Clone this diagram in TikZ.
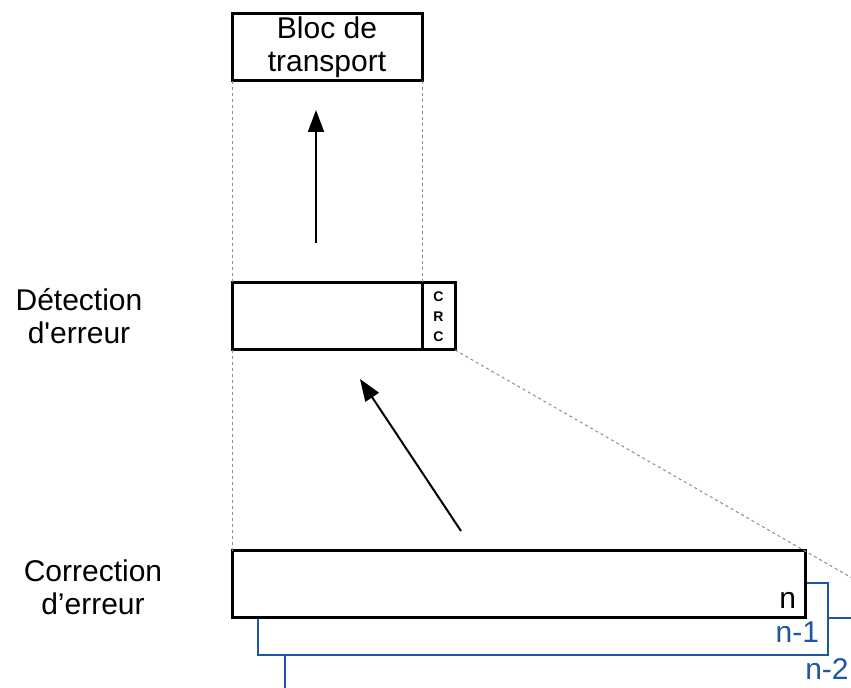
\documentclass[tikz,border=0pt]{standalone}
\usepackage{fontspec}
\setmainfont{Liberation Sans}[Ligatures=TeXOff]
\usetikzlibrary{positioning,calc,arrows.meta}
\definecolor{couche}{RGB}{30,85,165}
\tikzset{
  bloc/.style={draw, line width=1.5pt, fill=white, inner sep=0pt, outer sep=0pt,
    anchor=north west, minimum height=33.5pt},
  bloccouche/.style={bloc, draw=couche, line width=1.1pt, minimum width=285pt, minimum height=36pt},
  guide/.style={draw=gray!90, line width=0.5pt, dash pattern=on 1.5pt off 1.5pt},
  fleche/.style={line width=1pt, -{Triangle[length=11pt,width=8pt]}},
  titre/.style={align=center, font=\fontsize{15}{16.5}\selectfont},
}

\begin{document}
\begin{tikzpicture}[x=0.5pt,y=-0.5pt]
\useasboundingbox (0,0) rectangle (851,688);
\clip (0,0) rectangle (851,688);

% couches n-2, n-1, n
\node[bloccouche, minimum height=40pt] (bloc2) at (285,618) {};
\node[bloccouche] (bloc1) at (258,583) {};
\node[bloc, minimum width=286.5pt] (correct) at (232,551) {};
\node[titre, anchor=base east] (lbln) at (803,609) {n};
\node[titre, anchor=base east, text=couche] (lbln1) at (826,643) {n-1};
\node[titre, anchor=base east, text=couche, inner xsep=0pt] (lbln2) at (849,680) {n-2};

% blocs du haut
\node[bloc, minimum width=95pt, titre] (transport) at (232,14) {Bloc de\\transport};
\node[bloc, minimum width=95pt] (detect) at (232,283) {};
\node[bloc, minimum width=16.5pt, right=0pt of detect, align=center,
  font=\fontsize{7}{10}\selectfont\bfseries] (crc) {C\\R\\C};

% libelles
\node[titre] (lbldetect) at (79,316) {Détection\\d'erreur};
\node[titre] (lblcorrect) at (93,587) {Correction\\d’erreur};

% pointilles
\draw[guide] (transport.south west) -- (detect.north west);
\draw[guide] (transport.south east) -- (crc.north west);
\draw[guide] (detect.south west) -- (correct.north west);
\draw[guide] (crc.south east) -- ($(crc.south east)!1.25!(correct.north east)$);

% fleches
\coordinate (haut1) at (316,110);
\coordinate (bas1) at (316,243);
\coordinate (haut2) at (360,379);
\coordinate (bas2) at (461,531);
\draw[fleche] (bas1) -- (haut1);
\draw[fleche] (bas2) -- (haut2);
\end{tikzpicture}
\end{document}
